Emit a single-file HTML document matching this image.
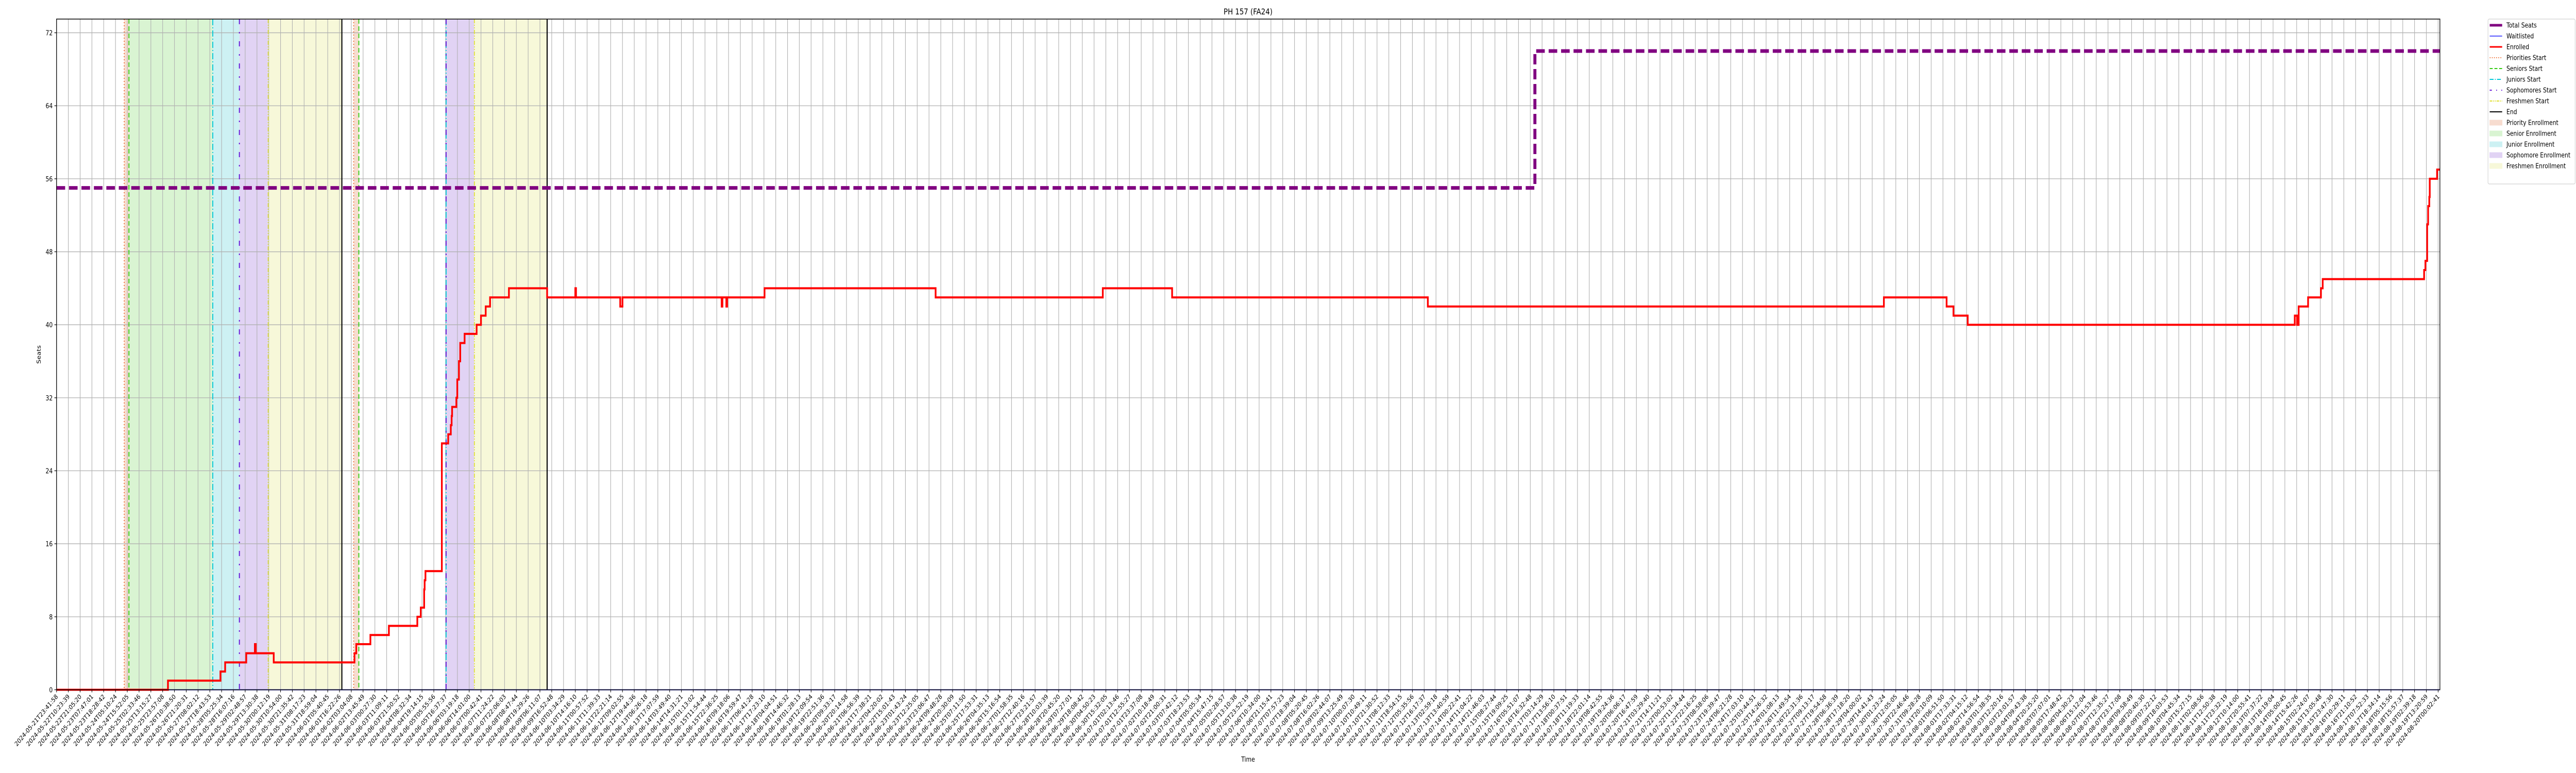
<!DOCTYPE html>
<html><head><meta charset="utf-8"><style>
html,body{margin:0;padding:0;background:#fff;width:100%;height:100%;overflow:hidden}
svg{display:block;overflow:hidden;width:100vw;height:100vh;font-family:"DejaVu Sans","Liberation Sans",sans-serif}
</style></head><body>
<svg id="chart" xmlns="http://www.w3.org/2000/svg" viewBox="0 0 6000 1500" preserveAspectRatio="none">
<rect width="6000" height="1500" fill="#fff"/>
<g id="shades"></g><g id="grid"></g><g id="vlines"></g><g id="series"></g><g id="axes"></g><g id="legend"></g>
<text x="2907" y="28" font-size="16" text-anchor="middle">PH 157 (FA24)</text>
<text x="2907" y="1478" font-size="13" text-anchor="middle">Time</text>
<text x="0" y="0" font-size="13" text-anchor="middle" transform="translate(95,688) rotate(-90)">Seats</text>
</svg>
<script>
// ---- data ----
const startTime = "2024-05-21T23:41:58";
const endTime = "2024-08-20T00:02:41";
const tickCount = 203;
const yTicks = [0, 8, 16, 24, 32, 40, 48, 56, 64, 72];
const enrolledIdx = [0, 9.45, 13.90, 14.30, 16.09, 16.82, 16.90, 18.42, 25.27, 25.42, 26.62, 28.19, 30.60, 30.89, 31.18, 31.22, 31.29, 32.68, 33.22, 33.44, 33.51, 33.55, 33.91, 33.99, 34.13, 34.24, 34.61, 35.63, 36.00, 36.40, 36.77, 38.37, 41.61, 44.00, 44.06, 47.81, 48.00, 56.41, 56.48, 56.81, 56.88, 60.05, 74.56, 88.74, 94.62, 116.31, 154.99, 160.31, 160.89, 162.10, 189.84, 190.03, 190.17, 190.97, 192.06, 192.21, 200.81, 200.92, 201.07, 201.15, 201.25, 201.29, 201.91];
const enrolledVal = [0, 1, 2, 3, 4, 5, 4, 3, 4, 5, 6, 7, 8, 9, 11, 12, 13, 27, 28, 29, 30, 31, 32, 34, 36, 38, 39, 40, 41, 42, 43, 44, 43, 44, 43, 42, 43, 42, 43, 42, 43, 44, 43, 44, 43, 42, 43, 42, 41, 40, 41, 40, 42, 43, 44, 45, 46, 47, 51, 53, 54, 56, 57];
const seatsIdx = [0, 125.39];
const seatsVal = [55, 70];
const waitIdx = [0];
const waitVal = [0];
const eventNames = ["priority", "seniors", "juniors", "sophomores", "freshmen", "end", "priority", "seniors", "juniors", "sophomores", "freshmen", "end"];
const eventIdx = [5.74, 6.14, 13.25, 15.51, 17.95, 24.20, 25.20, 25.64, 33.04, 33.04, 35.44, 41.61];
const shadeKinds = ["priority", "senior", "junior", "sophomore", "freshmen", "priority", "sophomore", "freshmen"];
const shadeFrom = [5.74, 6.14, 13.25, 15.51, 17.95, 25.20, 33.04, 35.44];
const shadeTo = [6.14, 13.25, 15.51, 17.95, 24.20, 25.64, 35.44, 41.61];

// ---- layout ----
const L = 131.7, R = 5683, T = 37, B = 1338.5;
const xMax = 202.15, yMax = 73.5;
const X = i => L + (i / xMax) * (R - L);
const Y = v => B - (v / yMax) * (B - T);
const NS = "http://www.w3.org/2000/svg";
function mk(tag, parent, attrs) { const e = document.createElementNS(NS, tag); for (const k in attrs) e.setAttribute(k, attrs[k]); parent.appendChild(e); return e; }
const shadeColor = { priority: "#f7dccf", senior: "#d9f4d2", junior: "#cdf1f3", sophomore: "#e1d3f4", freshmen: "#f7f8d9" };
const lineStyle = {
  priority: { c: "#ee6a2c", d: "2,4", w: 2 },
  seniors: { c: "#33cc11", d: "9,5", w: 2.2 },
  juniors: { c: "#00c8d8", d: "12,4,2,4", w: 2.2 },
  sophomores: { c: "#6a1fd8", d: "10,15,3,15", w: 2.4 },
  freshmen: { c: "#e0e030", d: "8,3,2,3,2,3", w: 2 },
  end: { c: "#000", d: "", w: 2.5 }
};

// shades
const gS = document.getElementById("shades");
shadeKinds.forEach((k, i) => {
  const r = mk("rect", gS, { x: X(shadeFrom[i]), y: T, width: X(shadeTo[i]) - X(shadeFrom[i]), height: B - T, fill: shadeColor[k] });
  
  
});

// grid
const gG = document.getElementById("grid");
const t0 = Date.parse(startTime + "Z"), t1 = Date.parse(endTime + "Z");
const tickLabels = [];
for (let i = 0; i < tickCount; i++) {
  const t = new Date(t0 + (t1 - t0) * i / (tickCount - 1));
  tickLabels.push(t.toISOString().slice(0, 19));
}
const gA = document.getElementById("axes");
tickLabels.forEach((lab, i) => {
  const x = X(i);
  const gl = mk("line", gG, { x1: x, x2: x, y1: T, y2: B, stroke: "#b0b0b0", "stroke-width": 1.3 });
  
  
  mk("line", gA, { x1: x, x2: x, y1: B, y2: B + 5, stroke: "#000", "stroke-width": 1.2 });
  const tx = mk("text", gA, { x: 0, y: 0, "font-size": 12.5, "text-anchor": "end", transform: `translate(${x + 4},${B + 14}) rotate(-45)` });
  tx.textContent = lab;
  
  
});
yTicks.forEach(v => {
  const y = Y(v);
  const gl = mk("line", gG, { x1: L, x2: R, y1: y, y2: y, stroke: "#b0b0b0", "stroke-width": 1.3 });
  
  
  mk("line", gA, { x1: L - 5, x2: L, y1: y, y2: y, stroke: "#000", "stroke-width": 1.2 });
  const tx = mk("text", gA, { x: L - 9, y: y + 5, "font-size": 13, "text-anchor": "end" });
  tx.textContent = v;
  
  
});
const frame = mk("rect", gA, { x: L, y: T, width: R - L, height: B - T, fill: "none", stroke: "#000", "stroke-width": 1.5 });



// event lines
const gV = document.getElementById("vlines");
eventNames.forEach((n, i) => {
  const s = lineStyle[n], x = X(eventIdx[i]);
  const l = mk("line", gV, { x1: x, x2: x, y1: T, y2: B, stroke: s.c, "stroke-width": s.w, "stroke-dasharray": s.d });
  
  
});

// series
function stepPath(idx, val) {
  let d = "M" + X(idx[0]) + "," + Y(val[0]);
  for (let i = 1; i < idx.length; i++) d += "H" + X(idx[i]) + "V" + Y(val[i]);
  return d + "H" + X(xMax);
}
const gSer = document.getElementById("series");
const pw = mk("path", gSer, { d: stepPath(waitIdx, waitVal), fill: "none", stroke: "#2222ff", "stroke-width": 2 });


const pe = mk("path", gSer, { d: stepPath(enrolledIdx, enrolledVal), fill: "none", stroke: "#ff0000", "stroke-width": 4, "stroke-linejoin": "miter" });


const ps = mk("path", gSer, { d: stepPath(seatsIdx, seatsVal), fill: "none", stroke: "#800080", "stroke-width": 7, "stroke-dasharray": "20,9" });



// legend
const gL = document.getElementById("legend");
const lb = mk("rect", gL, { x: 5795, y: 37, width: 203, height: 320, fill: "#fff", stroke: "#d0d0d0", "stroke-width": 1.2, rx: 3 });


const legendItems = [
  ["Total Seats", "line", "#800080", "", 5],
  ["Waitlisted", "line", "#2222ff", "", 1.5],
  ["Enrolled", "line", "#ff0000", "", 3],
  ["Priorities Start", "line", "#ee6a2c", "2,3", 1.8],
  ["Seniors Start", "line", "#33cc11", "7,4", 2],
  ["Juniors Start", "line", "#00c8d8", "9,3,2,3", 2],
  ["Sophomores Start", "line", "#6a1fd8", "5,10,2,10", 2],
  ["Freshmen Start", "line", "#e0e030", "6,2,2,2,2,2", 2],
  ["End", "line", "#000", "", 2],
  ["Priority Enrollment", "rect", "#f7dccf"],
  ["Senior Enrollment", "rect", "#d9f4d2"],
  ["Junior Enrollment", "rect", "#cdf1f3"],
  ["Sophomore Enrollment", "rect", "#e1d3f4"],
  ["Freshmen Enrollment", "rect", "#f7f8d9"]
];
legendItems.forEach((it, i) => {
  const y = 49 + i * 21;
  const g = mk("g", gL, {});
  
  
  if (it[1] === "line") mk("line", g, { x1: 5799, x2: 5828, y1: y, y2: y, stroke: it[2], "stroke-width": it[4], "stroke-dasharray": it[3] });
  else mk("rect", g, { x: 5799, y: y - 5, width: 29, height: 10, fill: it[2], stroke: it[2] });
  const t = mk("text", g, { x: 5838, y: y + 4.5, "font-size": 13 });
  t.textContent = it[0];
});
</script>
</body></html>
